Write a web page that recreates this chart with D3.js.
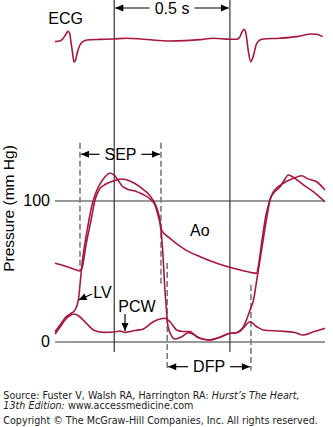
<!DOCTYPE html>
<html><head><meta charset="utf-8">
<script src="https://cdn.jsdelivr.net/npm/d3@7"></script>
<style>
html,body{margin:0;padding:0;background:#fff;}
svg{display:block;}
</style></head><body>
<svg id="chart" width="333" height="427"></svg>
<script>
// ---- data (time in s, pressure in mm Hg, ECG in mV) ----
const pressureTicks = [0, 100];
const markerTimes = [0.256, 0.756];      // solid lines, 0.5 s apart
const markerLabel = "0.5 s";
const sepTimes = [0.108, 0.458];         // systolic ejection period
const dfpTimes = [0.485, 0.847];         // diastolic filling period
const ecgSignal = [[0,-0.08],[0.022,-0.04],[0.036,0.09],[0.048,0.3],[0.056,0.43],[0.063,0.35],[0.069,-0.1],[0.076,-0.65],[0.082,-1.1],[0.089,-1.0],[0.097,-0.6],[0.108,-0.25],[0.122,-0.07],[0.138,0],[0.194,0.03],[0.252,0.05],[0.310,0.09],[0.382,0.04],[0.497,-0.05],[0.562,-0.03],[0.627,0.02],[0.684,0.09],[0.756,0.04],[0.785,0.04],[0.799,0.15],[0.808,0.4],[0.817,0.54],[0.825,0.34],[0.835,-0.5],[0.846,-1.09],[0.854,-0.92],[0.872,-0.17],[0.894,0.04],[0.972,0.09],[1.045,0.17],[1.109,0.3],[1.131,0.29],[1.157,0.17]];
const aoPressure = [[0,55.5],[0.043,53.5],[0.086,51.1],[0.108,50.0],[0.117,52.1],[0.134,68.4],[0.156,86.2],[0.173,100.4],[0.190,107.4],[0.220,111.7],[0.251,113.8],[0.288,115.2],[0.324,113.8],[0.367,109.6],[0.411,103.2],[0.437,96.1],[0.450,89.0],[0.462,78.6],[0.497,73.2],[0.554,66.1],[0.627,60.1],[0.699,55.5],[0.771,51.9],[0.843,49.1],[0.872,48.4],[0.879,53.5],[0.895,72.0],[0.912,89.7],[0.929,100.4],[0.944,106.2],[0.987,112.2],[1.024,115.2],[1.067,117.6],[1.088,115.7],[1.131,113.3],[1.167,107.4]];
const lvPressure = [[0,7.0],[0.022,11.7],[0.043,16.7],[0.065,19.5],[0.086,22.3],[0.101,29.4],[0.108,40.1],[0.115,52.1],[0.125,64.9],[0.143,82.6],[0.160,96.8],[0.173,103.9],[0.190,110.3],[0.212,116.0],[0.238,119.3],[0.255,118.1],[0.272,114.5],[0.290,110.3],[0.311,108.2],[0.346,106.7],[0.376,104.6],[0.411,101.1],[0.432,96.8],[0.445,89.7],[0.458,79.1],[0.467,60.6],[0.473,42.2],[0.480,25.9],[0.488,11.0],[0.506,3.4],[0.519,1.8],[0.548,3.4],[0.576,6.2],[0.598,5.1],[0.627,2.3],[0.670,1.1],[0.713,3.0],[0.756,5.8],[0.785,6.2],[0.814,10.3],[0.843,22.3],[0.858,29.4],[0.872,43.6],[0.886,57.8],[0.903,75.5],[0.921,93.3],[0.929,100.4],[0.944,105.1],[0.973,109.8],[0.994,115.2],[1.008,118.1],[1.037,115.7],[1.080,110.3],[1.124,105.3],[1.167,99.1]];
const pcwPressure = [[0,5.3],[0.022,10.3],[0.043,15.2],[0.065,18.4],[0.082,19.5],[0.100,18.4],[0.122,15.2],[0.143,11.7],[0.166,8.2],[0.209,6.5],[0.255,6.7],[0.281,7.4],[0.303,6.5],[0.346,7.8],[0.380,8.7],[0.425,14.0],[0.454,16.0],[0.475,16.5],[0.497,14.0],[0.526,8.2],[0.553,7.1],[0.583,7.0],[0.612,3.4],[0.641,1.6],[0.670,1.1],[0.713,3.0],[0.756,5.8],[0.785,6.2],[0.814,9.6],[0.843,14.0],[0.872,10.5],[0.900,8.2],[0.972,7.4],[1.037,6.4],[1.072,4.6],[1.115,6.7],[1.167,9.4]];
const labels = {ecg:"ECG", ao:"Ao", lv:"LV", pcw:"PCW", sep:"SEP", dfp:"DFP", yAxis:"Pressure (mm Hg)"};
const sourceLines = ["Source: Fuster V, Walsh RA, Harrington RA:\u00A0", "Hurst\u2019s The Heart,", "13th Edition:\u00A0", "www.accessmedicine.com", "Copyright \u00A9 The McGraw-Hill Companies, Inc. All rights reserved."];

// ---- drawing ----
const svg = d3.select("#chart");
const FONT = "'Liberation Sans', Arial, Helvetica, sans-serif";
const RED = "#a8173f";
const x = d3.scaleLinear().domain([0, 1.167]).range([55, 325]);
const y = d3.scaleLinear().domain([0, 100]).range([341.5, 200.5]);
const ye = d3.scaleLinear().domain([-1, 1]).range([60, 20]);

// pressure axis with full-width grid lines
const axis = d3.axisLeft(y).tickValues(pressureTicks)
  .tickSize(-(x.range()[1] - x.range()[0])).tickPadding(5);
const gA = svg.append("g").attr("transform", `translate(${x.range()[0]},0)`).call(axis)
  .attr("font-family", FONT).attr("font-size", 16);
gA.select(".domain").remove();
gA.selectAll(".tick line").attr("stroke", "#333").attr("stroke-width", 1.2);
gA.selectAll(".tick text").attr("fill", "#000");

// solid time markers
svg.selectAll("line.marker").data(markerTimes).join("line").attr("class", "marker")
  .attr("x1", d => x(d)).attr("x2", d => x(d)).attr("y1", 0).attr("y2", 352)
  .attr("stroke", "#333").attr("stroke-width", 1.2);

// dashed lines
const dashSpecs = [
  {t: sepTimes[0], p0: 141, p1: 50.7},
  {t: sepTimes[1], p0: 141, p1: 40},
  {t: dfpTimes[0], p0: 55.7, p1: -20.5},
  {t: dfpTimes[1], p0: 40, p1: -20.5}
];
svg.selectAll("line.dash").data(dashSpecs).join("line").attr("class", "dash")
  .attr("x1", d => x(d.t)).attr("x2", d => x(d.t)).attr("y1", d => y(d.p0)).attr("y2", d => y(d.p1))
  .attr("stroke", "#7a7a7a").attr("stroke-width", 1.6).attr("stroke-dasharray", "6,3");

// curves
const line = d3.line().x(d => x(d[0])).y(d => y(d[1])).curve(d3.curveMonotoneX);
const eline = d3.line().x(d => x(d[0])).y(d => ye(d[1])).curve(d3.curveMonotoneX);
[aoPressure, lvPressure, pcwPressure].forEach(s => {
  svg.append("path").datum(s).attr("d", line).attr("fill", "none")
    .attr("stroke", RED).attr("stroke-width", 1.6).attr("stroke-linejoin", "round");
});
svg.append("path").datum(ecgSignal).attr("d", eline).attr("fill", "none")
  .attr("stroke", RED).attr("stroke-width", 1.6).attr("stroke-linejoin", "round");

// text helper
function label(txt, xx, yy, anchor) {
  return svg.append("text").attr("x", xx).attr("y", yy).attr("font-family", FONT)
    .attr("font-size", 16).attr("fill", "#000").attr("text-anchor", anchor || "start").text(txt);
}
function arrow(x1, y1, x2, y2) {
  svg.append("line").attr("x1", x1).attr("y1", y1).attr("x2", x2).attr("y2", y2)
    .attr("stroke", "#000").attr("stroke-width", 1.2);
  const a = Math.atan2(y2 - y1, x2 - x1), L = 8, w = 3.5;
  const bx = x2 - L * Math.cos(a), by = y2 - L * Math.sin(a);
  const px = -Math.sin(a) * w, py = Math.cos(a) * w;
  svg.append("path").attr("d", `M${x2},${y2}L${bx + px},${by + py}L${bx - px},${by - py}Z`).attr("fill", "#000");
}
function spanArrow(txt, t0, t1, yy) {
  const cx = (x(t0) + x(t1)) / 2;
  const el = label(txt, cx, yy + 5.5, "middle");
  const w = el.node().getComputedTextLength();
  arrow(cx - w / 2 - 5, yy, x(t0) + 1, yy);
  arrow(cx + w / 2 + 5, yy, x(t1) - 1, yy);
}
spanArrow(markerLabel, markerTimes[0], markerTimes[1], 8);
spanArrow(labels.sep, sepTimes[0], sepTimes[1], 154.3);
spanArrow(labels.dfp, dfpTimes[0], dfpTimes[1], 366.7);

label(labels.ecg, 48.3, 24.3);
label(labels.ao, 190, 235.7);
label(labels.lv, 93.3, 298.3);
arrow(92, 294, 78.5, 300);
label(labels.pcw, 118.3, 311.7);
arrow(125, 314, 125, 331);

svg.append("text").attr("transform", "translate(14,208.5) rotate(-90)")
  .attr("text-anchor", "middle").attr("font-family", FONT).attr("font-size", 15.5)
  .attr("fill", "#000").text(labels.yAxis);

// source footer (separate text pieces, no overlap)
const SF = "'DejaVu Sans', Verdana, sans-serif";
const FS = 9.6;
function foot(txt, xx, yy, italic) {
  return svg.append("text").attr("x", xx).attr("y", yy).attr("font-family", SF)
    .attr("font-size", FS).attr("fill", "#222").attr("font-style", italic ? "italic" : "normal").text(txt);
}
const a1 = foot(sourceLines[0], 3.3, 398.6, false);
foot(sourceLines[1], 3.3 + a1.node().getComputedTextLength(), 398.6, true);
const b1 = foot(sourceLines[2], 3.3, 409.4, true);
foot(sourceLines[3], 3.3 + b1.node().getComputedTextLength(), 409.4, false);
foot(sourceLines[4], 3.3, 424, false);
</script>
</body></html>
